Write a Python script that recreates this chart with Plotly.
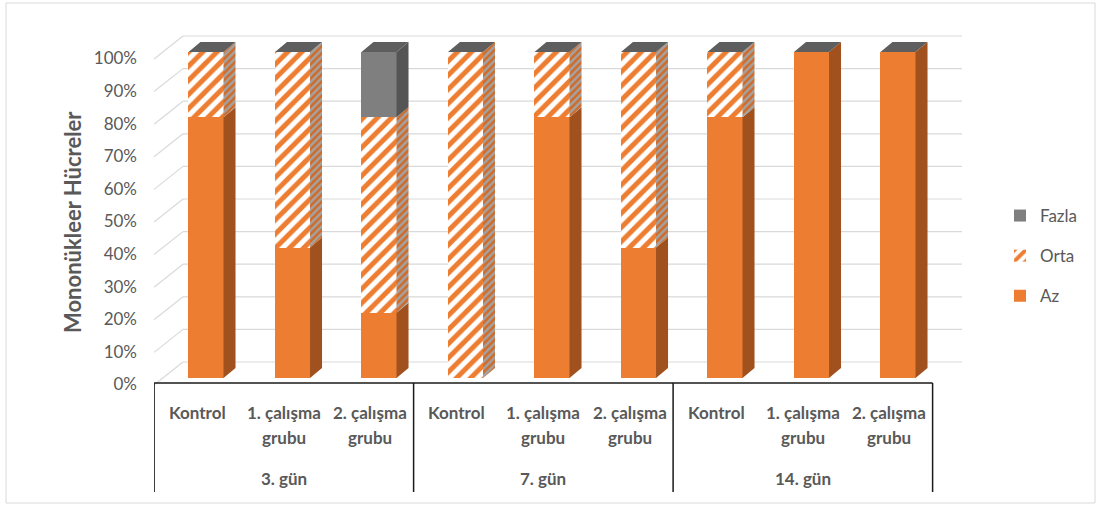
import plotly.graph_objects as go

# ---------------- data ----------------
groups = ["3. gün", "7. gün", "14. gün"]
sub_line1 = ["Kontrol", "1. çalışma", "2. çalışma"]
sub_line2 = ["", "grubu", "grubu"]
az = [80, 40, 20, 0, 80, 40, 80, 100, 100]
orta = [20, 60, 60, 100, 20, 60, 20, 0, 0]
fazla = [0, 0, 20, 0, 0, 0, 0, 0, 0]
y_ticks = [0, 10, 20, 30, 40, 50, 60, 70, 80, 90, 100]
y_tick_labels = ["0%", "10%", "20%", "30%", "40%", "50%", "60%", "70%", "80%", "90%", "100%"]
y_title = "Mononükleer Hücreler"

# ---------------- geometry / style ----------------
W, H = 1099, 506
PL, PR, PT, PB = 154, 962, 30, 386
X0PX, XSCALE = 206, 86.5
Y0PX, YSCALE = 378, 3.26
BAR_W = 0.405
DX = 12 / XSCALE
DY = 10 / YSCALE
FONT = "Lato"
TXT = "#595959"

x_range = [(PL - X0PX) / XSCALE, (PR - X0PX) / XSCALE]
y_range = [(Y0PX - PB) / YSCALE, (Y0PX - PT) / YSCALE]


def py2paper(py):
    return (PB - py) / (PB - PT)


def px2paper(px):
    return (px - PL) / (PR - PL)


n = len(az)
xs = list(range(n))

C_AZ, C_AZ_SIDE = "#ED7D31", "#A0511D"
C_FZ, C_FZ_SIDE, C_TOP = "#7F7F7F", "#555555", "#5E5E5E"

fig = go.Figure()

fig.add_trace(go.Bar(x=xs, y=az, name="Az", width=BAR_W,
                     marker=dict(color=C_AZ, line=dict(width=0)),
                     legendrank=3, legendgroup="az"))
fig.add_trace(go.Bar(x=xs, y=orta, name="Orta", width=BAR_W,
                     marker=dict(color="white", line=dict(width=0),
                                 pattern=dict(shape="/", fgcolor=C_AZ, bgcolor="white",
                                              fgopacity=1, size=10, solidity=0.5)),
                     legendrank=2, legendgroup="orta"))
fig.add_trace(go.Bar(x=xs, y=fazla, name="Fazla", width=BAR_W,
                     marker=dict(color=C_FZ, line=dict(width=0)),
                     legendrank=1, legendgroup="fazla"))


def side_faces(base, vals):
    px_, py_ = [], []
    for i, (b, v) in enumerate(zip(base, vals)):
        if v <= 0:
            continue
        xr = i + BAR_W / 2
        px_ += [xr, xr + DX, xr + DX, xr, xr, None]
        py_ += [b, b + DY, b + v + DY, b + v, b, None]
    return px_, py_


base0 = [0] * n
base1 = az
base2 = [a + o for a, o in zip(az, orta)]
totals = [a + o + f for a, o, f in zip(az, orta, fazla)]

sx, sy = side_faces(base0, az)
fig.add_trace(go.Scatter(x=sx, y=sy, mode="lines", fill="toself", fillcolor=C_AZ_SIDE,
                         line=dict(width=0), showlegend=False, hoverinfo="skip"))
sx, sy = side_faces(base1, orta)
fig.add_trace(go.Scatter(x=sx, y=sy, mode="lines", fill="toself", fillcolor="#A3A3A3",
                         fillpattern=dict(shape="/", fgcolor="#D06A28", bgcolor="#A3A3A3",
                                          fgopacity=1, size=5, solidity=0.5),
                         line=dict(width=0), showlegend=False, hoverinfo="skip"))
sx, sy = side_faces(base2, fazla)
fig.add_trace(go.Scatter(x=sx, y=sy, mode="lines", fill="toself", fillcolor=C_FZ_SIDE,
                         line=dict(width=0), showlegend=False, hoverinfo="skip"))

tx, ty = [], []
for i, t in enumerate(totals):
    xl, xr = i - BAR_W / 2, i + BAR_W / 2
    tx += [xl, xl + DX, xr + DX, xr, xl, None]
    ty += [t, t + DY, t + DY, t, t, None]
fig.add_trace(go.Scatter(x=tx, y=ty, mode="lines", fill="toself", fillcolor=C_TOP,
                         line=dict(width=0), showlegend=False, hoverinfo="skip"))

shapes = []
# 3D gridlines: back wall + left side wall
BACK_DX = 29 / XSCALE
BACK_DY = 16 / YSCALE
FRONT_DY = -7 / YSCALE
for g in y_ticks:
    shapes.append(dict(type="line", xref="x", yref="y", layer="below",
                       x0=x_range[0] + BACK_DX, x1=x_range[1], y0=g + BACK_DY, y1=g + BACK_DY,
                       line=dict(color="#D9D9D9", width=1.2)))
    shapes.append(dict(type="line", xref="x", yref="y", layer="below",
                       x0=x_range[0], x1=x_range[0] + BACK_DX, y0=g + FRONT_DY, y1=g + BACK_DY,
                       line=dict(color="#D9D9D9", width=1.2)))

# category box
n_groups = len(groups)
per = len(sub_line1)
left_edge = -0.6
shapes.append(dict(type="line", xref="x", yref="paper", x0=left_edge, x1=left_edge + per * n_groups,
                   y0=py2paper(383), y1=py2paper(383), line=dict(color="#1A1A1A", width=1.5)))
for k in range(n_groups + 1):
    xv = left_edge + per * k
    shapes.append(dict(type="line", xref="x", yref="paper", x0=xv, x1=xv,
                       y0=py2paper(383), y1=py2paper(492), line=dict(color="#1A1A1A", width=1.5)))

# outer border
shapes.append(dict(type="rect", xref="paper", yref="paper",
                   x0=px2paper(6), x1=px2paper(1095), y0=py2paper(3), y1=py2paper(503),
                   line=dict(color="#D9D9D9", width=1)))

annotations = []
for gi, gname in enumerate(groups):
    for si in range(per):
        xi = gi * per + si - 0.1
        annotations.append(dict(x=xi, y=py2paper(412), xref="x", yref="paper", text=f"<b>{sub_line1[si]}</b>",
                                showarrow=False, font=dict(family=FONT, size=17, color=TXT),
                                xanchor="center", yanchor="middle"))
        if sub_line2[si]:
            annotations.append(dict(x=xi, y=py2paper(437), xref="x", yref="paper",
                                    text=f"<b>{sub_line2[si]}</b>",
                                    showarrow=False, font=dict(family=FONT, size=17, color=TXT),
                                    xanchor="center", yanchor="middle"))
    annotations.append(dict(x=gi * per + 1 - 0.1, y=py2paper(478), xref="x", yref="paper",
                            text=f"<b>{gname}</b>", showarrow=False,
                            font=dict(family=FONT, size=17, color=TXT), xanchor="center", yanchor="middle"))

annotations.append(dict(x=px2paper(72), y=py2paper(222), xref="paper", yref="paper",
                        text=f"<b>{y_title}</b>", textangle=-90, showarrow=False,
                        font=dict(family=FONT, size=22, color=TXT), xanchor="center", yanchor="middle"))

fig.update_layout(
    width=W, height=H,
    margin=dict(l=PL, r=W - PR, t=PT, b=H - PB, autoexpand=False),
    paper_bgcolor="white", plot_bgcolor="white",
    barmode="stack", bargap=0,
    showlegend=True,
    legend=dict(x=px2paper(1000), y=py2paper(198), xanchor="left", yanchor="top",
                font=dict(family=FONT, size=17, color=TXT), traceorder="grouped",
                tracegroupgap=15, itemwidth=30, bgcolor="rgba(0,0,0,0)"),
    xaxis=dict(range=x_range, showgrid=False, zeroline=False, showline=False,
               showticklabels=False, ticks="", fixedrange=True),
    yaxis=dict(range=y_range, showgrid=False, zeroline=False, showline=False,
               tickvals=[g - 2 for g in y_ticks], ticktext=y_tick_labels, ticks="",
               ticklabelstandoff=16, fixedrange=True,
               tickfont=dict(family=FONT, size=17, color=TXT)),
    shapes=shapes, annotations=annotations,
    font=dict(family=FONT, color=TXT),
)

fig.write_html("out.html", config={"displayModeBar": False},
               post_script="document.body.style.margin='0';document.body.style.overflow='hidden';")
